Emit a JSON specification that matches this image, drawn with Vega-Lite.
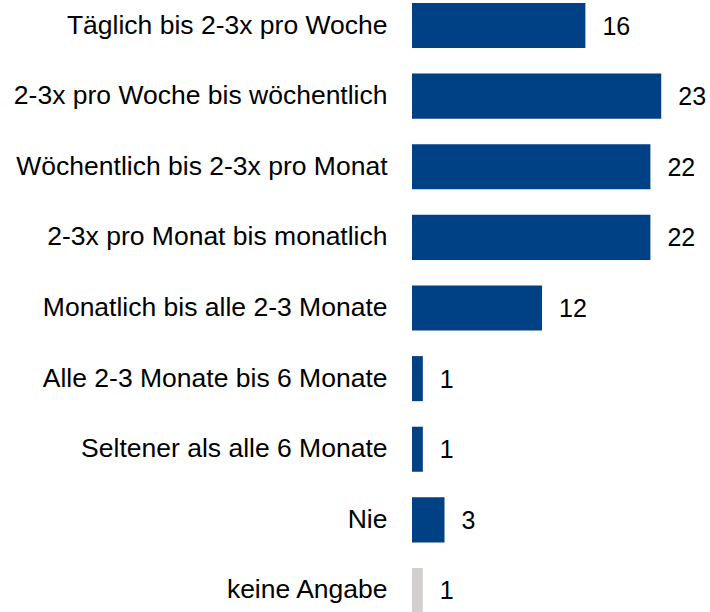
{
  "$schema": "https://vega.github.io/schema/vega-lite/v6.json",
  "autosize": "none",
  "width": 298,
  "height": 610,
  "padding": {"left": 412, "top": 3, "right": 0, "bottom": 0},
  "background": "white",
  "config": {"view": {"stroke": null}, "font": "Liberation Sans"},
  "data": {"values": [
    {"cat": "Täglich bis 2-3x pro Woche", "v": 16, "g": "a"},
    {"cat": "2-3x pro Woche bis wöchentlich", "v": 23, "g": "a"},
    {"cat": "Wöchentlich bis 2-3x pro Monat", "v": 22, "g": "a"},
    {"cat": "2-3x pro Monat bis monatlich", "v": 22, "g": "a"},
    {"cat": "Monatlich bis alle 2-3 Monate", "v": 12, "g": "a"},
    {"cat": "Alle 2-3 Monate bis 6 Monate", "v": 1, "g": "a"},
    {"cat": "Seltener als alle 6 Monate", "v": 1, "g": "a"},
    {"cat": "Nie", "v": 3, "g": "a"},
    {"cat": "keine Angabe", "v": 1, "g": "b"}
  ]},
  "encoding": {
    "y": {"field": "cat", "type": "nominal", "sort": null,
      "scale": {"paddingInner": 0.362, "paddingOuter": 0},
      "axis": {"title": null, "ticks": false, "domain": false, "labelFontSize": 26.5, "labelFontWeight": "normal", "labelColor": "#000000", "labelPadding": 25, "labelLimit": 0, "labelFont": "Liberation Sans"}},
    "x": {"field": "v", "type": "quantitative", "scale": {"domain": [0, 27.5]}, "axis": null}
  },
  "layer": [
    {"mark": {"type": "bar"},
     "encoding": {"color": {"field": "g", "type": "nominal", "scale": {"domain": ["a", "b"], "range": ["#004186", "#D3CFCD"]}, "legend": null}}},
    {"mark": {"type": "text", "align": "left", "dx": 17, "dy": 1, "fontSize": 25, "color": "#000000", "font": "Liberation Sans"},
     "encoding": {"text": {"field": "v", "type": "quantitative"}}}
  ]
}
